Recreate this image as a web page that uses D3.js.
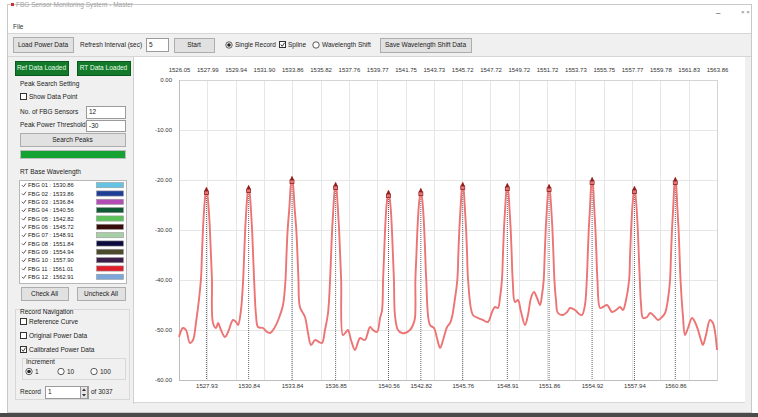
<!DOCTYPE html>
<html><head><meta charset="utf-8">
<script src="https://cdn.jsdelivr.net/npm/d3@7"></script>
<style>
html,body{margin:0;padding:0;background:#fff;}
svg{display:block;font-family:"Liberation Sans",Arial,sans-serif;}
</style></head>
<body>
<svg id="c" width="758" height="417"></svg>
<script>
// ---------------- data ----------------
const topTicks = [1526.05,1527.99,1529.94,1531.90,1533.86,1535.82,1537.76,1539.77,1541.75,1543.73,1545.72,1547.72,1549.72,1551.72,1553.73,1555.75,1557.77,1559.78,1561.83,1563.86];
const peakWavelengths = [1527.93,1530.84,1533.84,1536.85,1540.56,1542.82,1545.76,1548.91,1551.86,1554.92,1557.94,1560.86];
const peakPowers = [-21.6,-21.2,-19.4,-20.6,-22.2,-21.8,-20.6,-20.8,-21.0,-19.6,-21.4,-19.6];
const yTicks = [0,-10,-20,-30,-40,-50,-60];
const spectrum = [
[1526.05,-51.4],[1526.32,-49.6],[1526.53,-50.0],[1526.80,-52.6],[1527.01,-52.0],[1527.22,-48.4],
[1527.55,-40],[1527.62,-35],[1527.69,-30],[1527.78,-25.5],[1527.86,-22.9],[1527.93,-21.6],[1528.00,-22.9],[1528.08,-25.5],[1528.17,-30],[1528.24,-35],[1528.31,-40],
[1528.38,-48.6],[1528.59,-49.6],[1528.73,-48.6],[1528.93,-50.0],[1529.21,-51.4],[1529.42,-50.4],[1529.76,-48.0],[1529.97,-48.4],[1530.11,-49.0],[1530.31,-46.0],
[1530.46,-40],[1530.53,-35],[1530.60,-30],[1530.69,-25.5],[1530.77,-22.5],[1530.84,-21.2],[1530.91,-22.5],[1530.99,-25.5],[1531.08,-30],[1531.15,-35],[1531.22,-40],
[1531.35,-47.0],[1531.49,-49.4],[1531.84,-49.6],[1532.04,-50.2],[1532.32,-50.6],[1532.66,-49.4],[1532.94,-47.6],[1533.22,-45.0],
[1533.39,-40],[1533.46,-35],[1533.54,-30],[1533.66,-25.5],[1533.76,-21.0],[1533.84,-19.4],[1533.92,-21.0],[1534.02,-25.5],[1534.14,-30],[1534.22,-35],[1534.29,-40],
[1534.39,-45.4],[1534.74,-47.4],[1534.95,-50.6],[1535.16,-53.0],[1535.44,-52.0],[1535.71,-52.4],[1535.92,-52.6],[1536.12,-50.0],[1536.33,-46.6],
[1536.47,-40],[1536.54,-35],[1536.61,-30],[1536.70,-25.5],[1536.78,-22.0],[1536.85,-20.6],[1536.92,-22.0],[1537.00,-25.5],[1537.09,-30],[1537.16,-35],[1537.23,-40],
[1537.35,-51.0],[1537.56,-50.4],[1537.70,-50.0],[1537.91,-52.0],[1538.19,-54.0],[1538.41,-52.4],[1538.55,-51.6],[1538.90,-52.0],[1539.26,-49.4],[1539.47,-50.0],[1539.76,-50.4],[1539.97,-47.6],[1540.11,-46.0],
[1540.18,-40],[1540.25,-35],[1540.32,-30],[1540.41,-25.5],[1540.49,-23.4],[1540.56,-22.2],[1540.63,-23.4],[1540.71,-25.5],[1540.80,-30],[1540.87,-35],[1540.94,-40],
[1541.01,-47.0],[1541.22,-50.0],[1541.50,-50.6],[1541.71,-50.6],[1542.06,-50.0],[1542.27,-49.0],[1542.41,-47.6],
[1542.44,-40],[1542.51,-35],[1542.58,-30],[1542.67,-25.5],[1542.75,-23.2],[1542.82,-21.8],[1542.89,-23.2],[1542.97,-25.5],[1543.06,-30],[1543.13,-35],[1543.20,-40],
[1543.46,-49.0],[1543.74,-49.6],[1543.95,-51.6],[1544.17,-53.6],[1544.38,-52.0],[1544.66,-49.4],[1544.87,-48.6],[1545.01,-47.4],[1545.15,-45.0],
[1545.38,-40],[1545.45,-35],[1545.52,-30],[1545.61,-25.5],[1545.69,-22.0],[1545.76,-20.6],[1545.83,-22.0],[1545.91,-25.5],[1546.00,-30],[1546.07,-35],[1546.14,-40],
[1546.48,-47.0],[1546.84,-47.6],[1547.19,-48.0],[1547.54,-48.4],[1547.83,-46.4],[1548.04,-45.4],[1548.25,-45.6],[1548.39,-43.6],
[1548.53,-40],[1548.60,-35],[1548.67,-30],[1548.76,-25.5],[1548.84,-22.2],[1548.91,-20.8],[1548.98,-22.2],[1549.06,-25.5],[1549.15,-30],[1549.22,-35],[1549.29,-40],
[1549.45,-44.4],[1549.66,-44.0],[1549.88,-46.4],[1550.16,-49.0],[1550.37,-47.0],[1550.58,-43.6],[1550.79,-42.4],[1551.01,-43.6],[1551.22,-45.0],[1551.36,-43.0],
[1551.48,-40],[1551.55,-35],[1551.62,-30],[1551.71,-25.5],[1551.79,-22.4],[1551.86,-21.0],[1551.93,-22.4],[1552.01,-25.5],[1552.10,-30],[1552.17,-35],[1552.24,-40],
[1552.35,-44.0],[1552.49,-46.6],[1552.85,-47.0],[1553.14,-46.4],[1553.35,-45.6],[1553.70,-46.0],[1553.99,-46.8],[1554.20,-47.0],[1554.41,-45.0],
[1554.54,-40],[1554.61,-35],[1554.68,-30],[1554.77,-25.5],[1554.85,-21.2],[1554.92,-19.6],[1554.99,-21.2],[1555.07,-25.5],[1555.16,-30],[1555.23,-35],[1555.30,-40],
[1555.49,-45.6],[1555.70,-45.4],[1555.99,-45.0],[1556.34,-46.4],[1556.63,-46.0],[1556.91,-45.4],[1557.12,-46.0],[1557.34,-44.0],
[1557.56,-40],[1557.63,-35],[1557.70,-30],[1557.79,-25.5],[1557.87,-22.8],[1557.94,-21.4],[1558.01,-22.8],[1558.09,-25.5],[1558.18,-30],[1558.25,-35],[1558.32,-40],
[1558.41,-45.0],[1558.55,-47.6],[1558.84,-47.4],[1559.05,-46.6],[1559.33,-47.2],[1559.62,-48.0],[1559.90,-47.4],[1560.12,-46.6],[1560.34,-43.6],
[1560.48,-40],[1560.55,-35],[1560.62,-30],[1560.71,-25.5],[1560.79,-21.2],[1560.86,-19.6],[1560.93,-21.2],[1561.01,-25.5],[1561.10,-30],[1561.17,-35],[1561.24,-40],
[1561.42,-47.4],[1561.56,-51.0],[1561.78,-49.6],[1562.07,-47.6],[1562.28,-48.4],[1562.50,-50.0],[1562.71,-52.0],[1562.85,-53.0],[1563.07,-51.0],[1563.36,-48.0],[1563.57,-48.6],[1563.86,-54.0]
];
const fbgNames = ["FBG 01","FBG 02","FBG 03","FBG 04","FBG 05","FBG 06","FBG 07","FBG 08","FBG 09","FBG 10","FBG 11","FBG 12"];
const fbgBase = ["1530.86","1533.86","1536.84","1540.56","1542.82","1545.72","1548.91","1551.84","1554.94","1557.90","1561.01","1562.91"];
const fbgColors = ["#62c3e4","#1d3f96","#b14db4","#0d5a33","#5cc25a","#3a0b0b","#a7cfa6","#0b0b3e","#4b4a2b","#3b1f48","#e01f2b","#7ba7da"];

// ---------------- page chrome ----------------
const svg = d3.select("#c");
const F = 6.5;
svg.append("rect").attr("x",0).attr("y",0).attr("width",758).attr("height",417).attr("fill","#fff");
svg.append("rect").attr("x",7.5).attr("y",4.5).attr("width",744).attr("height",408).attr("fill","#f0f0f0").attr("stroke","#c9c9c9");
svg.append("rect").attr("x",8).attr("y",5).attr("width",743).attr("height",28).attr("fill","#fff");
svg.append("rect").attr("x",0).attr("y",413).attr("width",758).attr("height",4).attr("fill","#4a4a4a");
// title
svg.append("rect").attr("x",11).attr("y",3).attr("width",3).attr("height",3).attr("fill","#d03030");
svg.append("text").attr("x",16).attr("y",7).attr("font-size",F).attr("fill","#a0a0a0").text("FBG Sensor Monitoring System - Master");
svg.append("text").attr("x",716).attr("y",15).attr("font-size",8).attr("fill","#333").text("–");
svg.append("text").attr("x",741).attr("y",14).attr("font-size",6).attr("fill","#777").text("× ×");
svg.append("text").attr("x",13).attr("y",29).attr("font-size",F).attr("fill","#333").text("File");
// toolbar
svg.append("line").attr("x1",8).attr("x2",751).attr("y1",33.5).attr("y2",33.5).attr("stroke","#d6d6d6");
svg.append("line").attr("x1",8).attr("x2",751).attr("y1",56.5).attr("y2",56.5).attr("stroke","#d6d6d6");

function button(x,y,w,h,label){
  svg.append("rect").attr("x",x+0.5).attr("y",y+0.5).attr("width",w).attr("height",h).attr("fill","#e1e1e1").attr("stroke","#adadad");
  svg.append("text").attr("x",x+w/2).attr("y",y+h/2+2.3).attr("text-anchor","middle").attr("font-size",F).attr("fill","#222").text(label);
}
function greenButton(x,y,w,h,label){
  svg.append("rect").attr("x",x+0.5).attr("y",y+0.5).attr("width",w).attr("height",h).attr("fill","#137a2c").attr("stroke","#0b5a1e");
  svg.append("text").attr("x",x+w/2).attr("y",y+h/2+2.3).attr("text-anchor","middle").attr("font-size",F).attr("fill","#e8ffe8").text(label);
}
function label(x,y,t,anchor){
  svg.append("text").attr("x",x).attr("y",y).attr("font-size",F).attr("fill","#222").attr("text-anchor",anchor||"start").text(t);
}
function input(x,y,w,h,v){
  svg.append("rect").attr("x",x+0.5).attr("y",y+0.5).attr("width",w).attr("height",h).attr("fill","#fff").attr("stroke","#9a9a9a");
  svg.append("text").attr("x",x+3).attr("y",y+h/2+2.3).attr("font-size",F).attr("fill","#222").text(v);
}
function checkbox(x,cy,checked,t){
  svg.append("rect").attr("x",x+0.5).attr("y",cy-3.5).attr("width",6).attr("height",6).attr("fill","#fff").attr("stroke","#333");
  if(checked) svg.append("path").attr("d",`M${x+1.8},${cy-0.5} L${x+3.2},${cy+1.3} L${x+5.6},${cy-2.3}`).attr("fill","none").attr("stroke","#222").attr("stroke-width",0.9);
  label(x+9,cy+2.2,t);
}
function radio(cx,cy,sel,t){
  svg.append("circle").attr("cx",cx).attr("cy",cy).attr("r",3.2).attr("fill","#fff").attr("stroke","#333").attr("stroke-width",0.8);
  if(sel) svg.append("circle").attr("cx",cx).attr("cy",cy).attr("r",1.8).attr("fill","#222");
  label(cx+6,cy+2.2,t);
}
button(13,37,60,15,"Load Power Data");
label(80,47.3,"Refresh Interval (sec)");
input(146,38,22,13,"5");
button(174,38,40,14,"Start");
radio(229,45,true,"Single Record");
checkbox(279,45,true,"Spline");
radio(316,45,false,"Wavelength Shift");
button(380,38,91,14,"Save Wavelength Shift Data");

// left panel
svg.append("line").attr("x1",133.5).attr("x2",133.5).attr("y1",57).attr("y2",404).attr("stroke","#d0d0d0");
greenButton(15,61,53,14,"Ref Data Loaded");
greenButton(77,61,53,14,"RT Data Loaded");
label(20,86,"Peak Search Setting");
checkbox(20,97,false,"Show Data Point");
label(20,114,"No. of FBG Sensors");
input(86,106,39,12,"12");
label(20,127,"Peak Power Threshold");
input(86,120,39,11,"-30");
button(20,133,105,13,"Search Peaks");
svg.append("rect").attr("x",20.5).attr("y",150.5).attr("width",105).attr("height",8).attr("fill","#14a233").attr("stroke","#bcbcbc");
label(20,174,"RT Base Wavelength");
svg.append("rect").attr("x",19.5).attr("y",180.5).attr("width",107).attr("height",103).attr("fill","#fff").attr("stroke","#b8b8b8");
const rowY = d3.scaleBand().domain(fbgNames).range([181,281]);
fbgNames.forEach((n,i)=>{
  const cy = rowY(n)+rowY.bandwidth()/2;
  svg.append("path").attr("d",`M22,${cy} L23.5,${cy+1.6} L26,${cy-1.8}`).attr("fill","none").attr("stroke","#333").attr("stroke-width",0.8);
  svg.append("text").attr("x",28).attr("y",cy+2.1).attr("font-size",5.8).attr("fill","#222").text(n+" : "+fbgBase[i]);
  svg.append("rect").attr("x",96.5).attr("y",cy-2.6).attr("width",27).attr("height",5.2).attr("fill",fbgColors[i]).attr("stroke","#999").attr("stroke-width",0.6);
});
button(21,287,47,13,"Check All");
button(77,287,48,13,"Uncheck All");
svg.append("rect").attr("x",15.5).attr("y",309.5).attr("width",114).attr("height",90).attr("fill","none").attr("stroke","#d8d8d8");
label(20,314,"Record Navigation");
checkbox(20,322,false,"Reference Curve");
checkbox(20,336,false,"Original Power Data");
checkbox(20,350,true,"Calibrated Power Data");
svg.append("rect").attr("x",22.5).attr("y",358.5).attr("width",103).attr("height",21).attr("fill","none").attr("stroke","#d8d8d8");
label(26,364,"Increment");
radio(29,371.5,true,"1");
radio(61,371.5,false,"10");
radio(94,371.5,false,"100");
label(20,394,"Record");
input(45,386,43,12,"1");
svg.append("rect").attr("x",80.5).attr("y",386.5).attr("width",7).attr("height",12).attr("fill","#e6e6e6").attr("stroke","#9a9a9a");
svg.append("path").attr("d","M82,391 L84,388.5 L86,391 Z M82,394 L84,396.5 L86,394 Z").attr("fill","#333");
label(91,394,"of 3037");

// chart panel
svg.append("rect").attr("x",134).attr("y",57).attr("width",611).attr("height",345).attr("fill","#fff");
svg.append("line").attr("x1",134).attr("x2",745).attr("y1",402.5).attr("y2",402.5).attr("stroke","#d6d6d6");

// ---------------- chart ----------------
const L = 179, R = 717, T = 80, B = 380;
const step = (R-L)/(topTicks.length-1);
const x = d3.scaleLinear().domain(topTicks).range(topTicks.map((d,i)=>L+i*step));
const y = d3.scaleLinear().domain([-60,0]).range([B,T]);
const g = svg.append("g");

// grid
g.append("g").selectAll("line").data(yTicks).join("line")
  .attr("x1",L).attr("x2",R).attr("y1",d=>y(d)+0.5).attr("y2",d=>y(d)+0.5).attr("stroke","#e6e6e6");
g.append("g").selectAll("line").data(topTicks).join("line")
  .attr("x1",d=>Math.round(x(d))+0.5).attr("x2",d=>Math.round(x(d))+0.5).attr("y1",T).attr("y2",B).attr("stroke","#e6e6e6");
g.append("rect").attr("x",L+0.5).attr("y",T+0.5).attr("width",R-L).attr("height",B-T).attr("fill","none").attr("stroke","#d4d4d4");
g.append("line").attr("x1",L+0.5).attr("x2",L+0.5).attr("y1",T).attr("y2",B).attr("stroke","#bdbdbd");
g.append("line").attr("x1",L).attr("x2",R).attr("y1",B+0.5).attr("y2",B+0.5).attr("stroke","#bdbdbd");

// axes
const fmt = d=>d.toFixed(2);
const ax = (sel)=>{sel.select(".domain").remove(); sel.selectAll("text").attr("font-size",6).attr("fill","#333").attr("font-family","Liberation Sans, Arial, sans-serif");};
g.append("g").attr("transform",`translate(${L},0)`).call(d3.axisLeft(y).tickValues(yTicks).tickFormat(fmt).tickSize(0).tickPadding(7)).call(ax);
g.append("g").attr("transform",`translate(0,${T})`).call(d3.axisTop(x).tickValues(topTicks).tickFormat(fmt).tickSize(0).tickPadding(8)).call(ax);
g.append("g").attr("transform",`translate(0,${B})`).call(d3.axisBottom(x).tickValues(peakWavelengths).tickFormat(fmt).tickSize(0).tickPadding(4)).call(ax);

// peak dotted markers
g.append("g").selectAll("line").data(peakWavelengths).join("line")
  .attr("x1",d=>x(d)).attr("x2",d=>x(d))
  .attr("y1",(d,i)=>y(peakPowers[i])+2).attr("y2",B)
  .attr("stroke","#555").attr("stroke-width",0.9).attr("stroke-dasharray","1,1");

// spectrum
const line = d3.line().x(d=>x(d[0])).y(d=>y(d[1])).curve(d3.curveCatmullRom.alpha(0.5));
g.append("path").datum(spectrum).attr("d",line).attr("fill","none").attr("stroke","#ec7474").attr("stroke-width",1.9).attr("stroke-linejoin","round");

// peak markers
const pk = g.append("g").selectAll("g").data(peakWavelengths).join("g")
  .attr("transform",(d,i)=>`translate(${x(d)},${y(peakPowers[i])})`);
pk.append("path").attr("d","M0,-1 L2,3 L-2,3 Z").attr("fill","#8a1e1e");
pk.append("rect").attr("x",-2).attr("y",3).attr("width",4).attr("height",3.5).attr("fill","none").attr("stroke","#8a1e1e").attr("stroke-width",0.8);
</script>
</body></html>
